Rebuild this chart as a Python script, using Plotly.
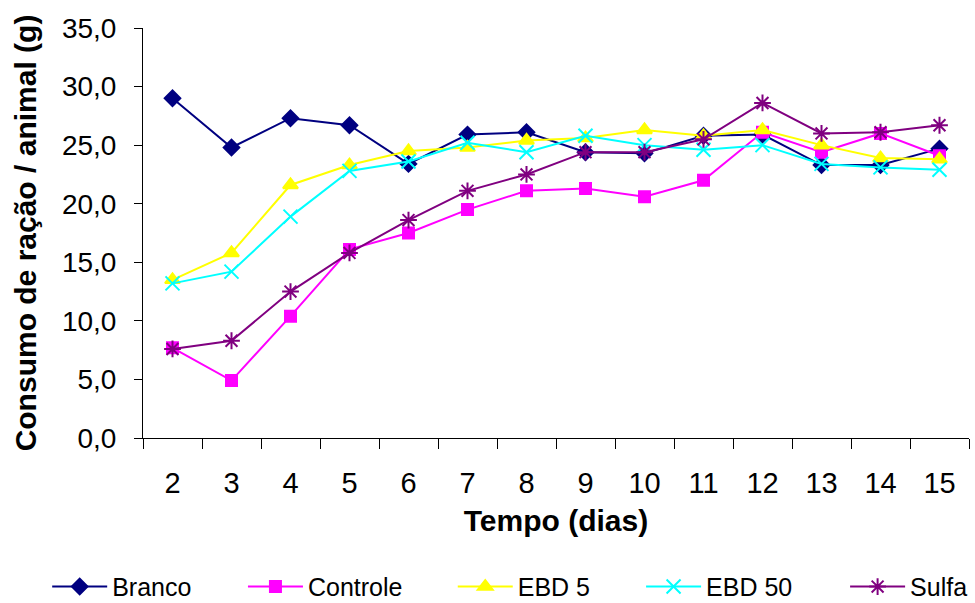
import plotly.graph_objects as go

dias = ["2", "3", "4", "5", "6", "7", "8", "9", "10", "11", "12", "13", "14", "15"]

branco = [29.0, 24.8, 27.3, 26.7, 23.4, 25.9, 26.1, 24.4, 24.3, 25.8, 25.9, 23.3, 23.3, 24.7]
controle = [7.7, 4.9, 10.4, 16.1, 17.5, 19.5, 21.1, 21.3, 20.6, 22.0, 26.1, 24.4, 26.0, 24.1]
ebd5 = [13.5, 15.8, 21.6, 23.3, 24.5, 24.8, 25.4, 25.6, 26.3, 25.8, 26.3, 25.0, 23.9, 23.8]
ebd50 = [13.2, 14.2, 18.9, 22.8, 23.6, 25.2, 24.4, 25.8, 25.0, 24.6, 25.0, 23.4, 23.1, 22.9]
sulfa = [7.6, 8.3, 12.5, 15.8, 18.6, 21.1, 22.5, 24.4, 24.4, 25.5, 28.6, 26.0, 26.1, 26.7]

series = [
    ("Branco", branco, "#000080", "diamond", 12),
    ("Controle", controle, "#FF00FF", "square", 11),
    ("EBD 5", ebd5, "#FFFF00", "triangle-up", 13),
    ("EBD 50", ebd50, "#00FFFF", "x-thin-open", 14),
    ("Sulfa", sulfa, "#800080", "asterisk-open", 14),
]

# one legend box per series so the entries sit in a single spaced row
legend_x = [-0.116, 0.121, 0.375, 0.603, 0.850]
legend_names = ["legend", "legend2", "legend3", "legend4", "legend5"]

font_family = "Liberation Sans, Arial, sans-serif"

fig = go.Figure()
for (name, vals, color, symbol, size), lg in zip(series, legend_names):
    fig.add_trace(go.Scatter(
        x=dias, y=vals, name=name, mode="lines+markers",
        line=dict(color=color, width=2),
        marker=dict(symbol=symbol, size=size, color=color,
                    line=dict(color=color, width=2)),
        legend=lg,
    ))

legend_layout = {}
for lg, lx in zip(legend_names, legend_x):
    legend_layout[lg] = dict(
        orientation="h", x=lx, xanchor="left", y=-0.363, yanchor="middle",
        font=dict(size=25, family=font_family), bgcolor="rgba(0,0,0,0)",
        itemwidth=55,
    )

fig.update_layout(
    width=975, height=603,
    margin=dict(l=143, r=6, t=28, b=165, autoexpand=False),
    paper_bgcolor="white", plot_bgcolor="white",
    separators=",.",
    font=dict(family=font_family, color="black", size=20),
    showlegend=True,
    xaxis=dict(
        type="category", tickson="boundaries", ticks="outside", ticklen=10,
        tickcolor="black", showline=True, linecolor="black", linewidth=1,
        showgrid=False, zeroline=False, range=[-0.5, 13.5], automargin=False,
        tickfont=dict(size=29), ticklabelstandoff=19,
        title=dict(text="<b>Tempo (dias)</b>", font=dict(size=30), standoff=12),
    ),
    yaxis=dict(
        range=[0, 35], dtick=5, tickformat=".1f", ticks="outside", ticklen=8,
        tickcolor="black", showline=True, linecolor="black", linewidth=1,
        showgrid=False, zeroline=False, automargin=False,
        tickfont=dict(size=28), ticklabelstandoff=12,
        title=dict(text="<b>Consumo de ração / animal (g)</b>", font=dict(size=30), standoff=16),
    ),
    **legend_layout,
)

fig.write_html("out.html")
